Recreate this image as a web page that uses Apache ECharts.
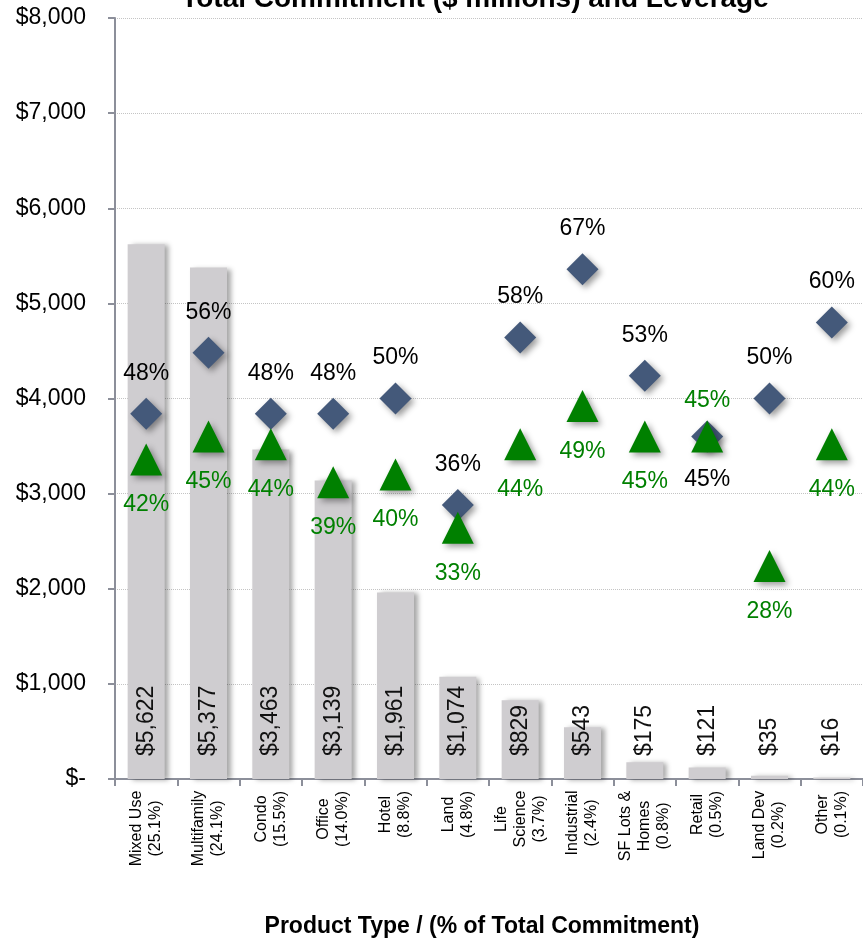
<!DOCTYPE html>
<html>
<head>
<meta charset="utf-8">
<title>Total Commitment ($ millions) and Leverage</title>
<script src="https://cdn.jsdelivr.net/npm/echarts@6/dist/echarts.min.js"></script>
<style>
  html, body { margin: 0; padding: 0; background: #fff; }
  #chart { width: 863px; height: 943px; }
</style>
</head>
<body>
<div id="chart"></div>
<script>
// Product types with their share of total commitment (one line per label row)
const categories = [
  'Mixed Use\n(25.1%)', 'Multifamily\n(24.1%)', 'Condo\n(15.5%)', 'Office\n(14.0%)',
  'Hotel\n(8.8%)', 'Land\n(4.8%)', 'Life\nScience\n(3.7%)', 'Industrial\n(2.4%)',
  'SF Lots &\nHomes\n(0.8%)', 'Retail\n(0.5%)', 'Land Dev\n(0.2%)', 'Other\n(0.1%)'
];
// Total commitment, $ millions
const commitment = [5622, 5377, 3463, 3139, 1961, 1074, 829, 543, 175, 121, 35, 16];
// Leverage, percent
const leverageDiamond = [48, 56, 48, 48, 50, 36, 58, 67, 53, 45, 50, 60];
const leverageTriangle = [42, 45, 44, 39, 40, 33, 44, 49, 45, 45, 28, 44];
// Dollar axis ticks
const yMin = 0, yMax = 8000, yStep = 1000;

const FONT = '"Liberation Sans", Arial, sans-serif';
const CAT_SIZE = 16;

// Per-category rich styles so that each label's lines are centred on each other
const ctx = document.createElement('canvas').getContext('2d');
ctx.font = CAT_SIZE + 'px ' + FONT;
const rich = {};
categories.forEach((c, i) => {
  const w = Math.max(...c.split('\n').map(l => ctx.measureText(l).width));
  rich['c' + i] = { width: Math.ceil(w) + 1, align: 'center', fontSize: CAT_SIZE,
                    lineHeight: 19, fontFamily: FONT, color: '#000' };
});

// Categories whose two leverage labels swap sides to avoid overlapping
const swapped = new Set([9]);

const axisGray = '#8c8f9a';
const markerShadow = { shadowBlur: 6, shadowOffsetX: 3, shadowOffsetY: 3, shadowColor: 'rgba(0,0,0,0.4)' };

const chart = echarts.init(document.getElementById('chart'), null, { renderer: 'canvas' });
chart.setOption({
  animation: false,
  backgroundColor: '#fff',
  title: {
    text: 'Total Commitment ($ millions) and Leverage',
    left: 470, top: -20, textAlign: 'center',
    textStyle: { fontFamily: FONT, fontWeight: 'bold', fontSize: 28, color: '#000' }
  },
  grid: { left: 115, top: 18, width: 750, bottom: 158, containLabel: false },
  xAxis: {
    type: 'category',
    data: categories,
    boundaryGap: true,
    name: 'Product Type / (% of Total Commitment)',
    nameLocation: 'middle',
    nameGap: 136,
    nameTextStyle: { fontFamily: FONT, fontWeight: 'bold', fontSize: 23, color: '#000', padding: [0, 14, 0, 0] },
    axisLine: { lineStyle: { color: axisGray, width: 2 } },
    axisTick: { show: true, length: 7, lineStyle: { color: axisGray, width: 2 } },
    axisLabel: {
      interval: 0, rotate: 90, margin: 11,
      formatter: (v, i) => v.split('\n').map(l => '{c' + i + '|' + l + '}').join('\n'),
      rich: rich
    },
    splitLine: { show: false }
  },
  yAxis: [{
    type: 'value',
    min: yMin, max: yMax, interval: yStep,
    axisLine: { show: true, lineStyle: { color: axisGray, width: 2 } },
    axisTick: { show: true, length: 7, lineStyle: { color: axisGray, width: 2 } },
    axisLabel: {
      margin: 29, color: '#000', fontFamily: FONT, fontSize: 23,
      formatter: v => v === 0 ? '$-' : '$' + v.toLocaleString('en-US')
    },
    splitLine: { show: true, lineStyle: { color: '#c4c4c4', type: 'dotted', width: 1 } }
  }, {
    type: 'value', min: 0, max: 100, show: false,
    splitLine: { show: false }
  }],
  series: [{
    name: 'Total Commitment',
    type: 'bar',
    data: commitment,
    barWidth: 37,
    itemStyle: {
      color: '#cfcdd0',
      shadowBlur: 5, shadowOffsetX: 4, shadowOffsetY: 1, shadowColor: 'rgba(0,0,0,0.35)'
    },
    label: {
      show: true, position: 'insideBottom', rotate: 90, distance: 23,
      align: 'left', verticalAlign: 'middle',
      color: '#111', fontFamily: FONT, fontSize: 23,
      formatter: p => '$' + p.value.toLocaleString('en-US')
    },
    z: 2
  }, {
    name: 'Leverage A',
    type: 'scatter',
    yAxisIndex: 1,
    symbol: 'diamond',
    symbolSize: 32,
    data: leverageDiamond.map((v, i) => ({
      value: v,
      label: swapped.has(i) ? { position: 'bottom', distance: 16 } : undefined
    })),
    itemStyle: Object.assign({ color: '#44597a', opacity: 1 }, markerShadow),
    label: {
      show: true, position: 'top', distance: 13,
      color: '#000', fontFamily: FONT, fontSize: 23,
      formatter: p => p.value + '%'
    },
    z: 3
  }, {
    name: 'Leverage B',
    type: 'scatter',
    yAxisIndex: 1,
    symbol: 'triangle',
    symbolSize: 32,
    data: leverageTriangle.map((v, i) => ({
      value: v,
      label: swapped.has(i) ? { position: 'top', distance: 8 } : undefined
    })),
    itemStyle: Object.assign({ color: '#008000', opacity: 1 }, markerShadow),
    label: {
      show: true, position: 'bottom', distance: 18,
      color: '#008000', fontFamily: FONT, fontSize: 23,
      formatter: p => p.value + '%'
    },
    z: 4
  }]
});
</script>
</body>
</html>
